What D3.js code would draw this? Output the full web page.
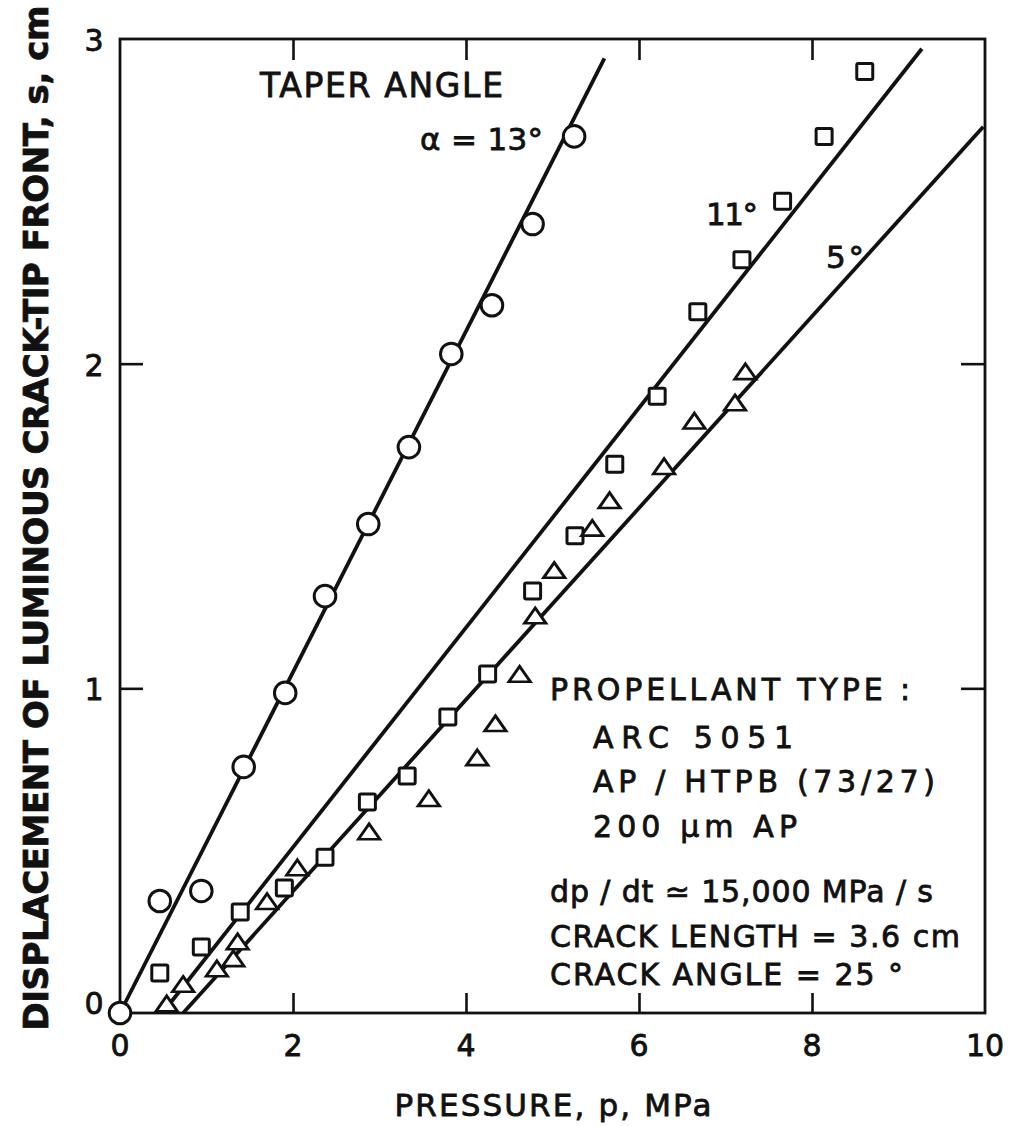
<!DOCTYPE html>
<html>
<head>
<meta charset="utf-8">
<script src="https://cdn.jsdelivr.net/npm/d3@7"></script>
<style>
  html, body { margin: 0; padding: 0; background: #fff; }
  svg { display: block; }
  text { font-family: "DejaVu Sans", sans-serif; fill: #111; stroke: #111; stroke-width: 0.8; }
</style>
</head>
<body>
<script>
// ---- Data (pressure p in MPa, displacement s in cm) ----
const xTicks = [0, 2, 4, 6, 8, 10];
const yTicks = [0, 1, 2, 3];

// Taper angle 13 deg (circles)
const circleP = [0, 0.46, 0.94, 1.43, 1.91, 2.37, 2.87, 3.34, 3.83, 4.30, 4.77, 5.25];
const circleS = [0, 0.345, 0.376, 0.758, 0.986, 1.284, 1.506, 1.743, 2.03, 2.18, 2.43, 2.70];
// Taper angle 11 deg (squares)
const squareP = [0.46, 0.94, 1.39, 1.90, 2.37, 2.86, 3.32, 3.79, 4.25, 4.77, 5.26, 5.72, 6.21, 6.68, 7.19, 7.66, 8.14, 8.61];
const squareS = [0.123, 0.203, 0.311, 0.385, 0.48, 0.65, 0.73, 0.912, 1.044, 1.30, 1.47, 1.69, 1.90, 2.16, 2.32, 2.50, 2.70, 2.90];
// Taper angle 5 deg (triangles)
const triP = [0.54, 0.73, 1.12, 1.31, 1.36, 1.70, 2.05, 2.88, 3.57, 4.13, 4.34, 4.62, 4.80, 5.02, 5.46, 5.66, 6.29, 6.64, 7.11, 7.23];
const triS = [0.015, 0.075, 0.123, 0.154, 0.206, 0.33, 0.434, 0.545, 0.647, 0.773, 0.878, 1.03, 1.21, 1.35, 1.48, 1.565, 1.67, 1.81, 1.866, 1.962];

// Fitted lines (end points)
const line13 = [[0, 0], [5.60, 2.94]];
const line11 = [[0.55, 0.02], [9.27, 2.97]];
const line5  = [[0.73, 0], [9.98, 2.73]];

const W = 1009, H = 1126;
const svg = d3.select("body").append("svg").attr("width", W).attr("height", H);

const x = d3.scaleLinear().domain([0, 10]).range([120, 985]);
const y = d3.scaleLinear().domain([0, 3]).range([1013, 39]);

// Frame
svg.append("rect")
  .attr("x", x(0)).attr("y", y(3))
  .attr("width", x(10) - x(0)).attr("height", y(0) - y(3))
  .attr("fill", "none").attr("stroke", "#111").attr("stroke-width", 2.8);

// Axes with inward ticks
const inner = [2, 4, 6, 8];
const yInner = [1, 2];
function styleAxis(g) {
  g.select(".domain").remove();
  g.selectAll(".tick line").attr("stroke", "#111").attr("stroke-width", 2.6);
}
svg.append("g").attr("transform", `translate(0,${y(0)})`)
  .call(d3.axisBottom(x).tickValues(inner).tickSize(-20).tickFormat(""))
  .call(styleAxis);
svg.append("g").attr("transform", `translate(0,${y(3)})`)
  .call(d3.axisTop(x).tickValues(inner).tickSize(-21).tickFormat(""))
  .call(styleAxis);
svg.append("g").attr("transform", `translate(${x(0)},0)`)
  .call(d3.axisLeft(y).tickValues(yInner).tickSize(-23).tickFormat(""))
  .call(styleAxis);
svg.append("g").attr("transform", `translate(${x(10)},0)`)
  .call(d3.axisRight(y).tickValues(yInner).tickSize(-24).tickFormat(""))
  .call(styleAxis);

// Tick labels
svg.append("g").selectAll("text").data(xTicks).join("text")
  .attr("x", d => x(d)).attr("y", 1056)
  .attr("text-anchor", "middle").attr("font-size", 30)
  .text(d => d);
svg.append("g").selectAll("text").data(yTicks).join("text")
  .attr("x", 94).attr("y", d => d === 0 ? y(d) + 1 : y(d) + 12)
  .attr("text-anchor", "middle").attr("font-size", 30)
  .text(d => d);

// Axis titles
svg.append("text")
  .attr("x", 553).attr("y", 1116)
  .attr("text-anchor", "middle").attr("font-size", 31)
  .attr("textLength", 317).attr("lengthAdjust", "spacing")
  .text("PRESSURE,  p,  MPa");
svg.append("text")
  .attr("transform", "translate(48,518) rotate(-90)")
  .attr("text-anchor", "middle").attr("font-size", 34).attr("font-weight", "bold")
  .attr("stroke-width", 0.2)
  .attr("textLength", 1025).attr("lengthAdjust", "spacing")
  .text("DISPLACEMENT OF LUMINOUS CRACK-TIP FRONT, s, cm");

// Fitted lines
const lineGen = d3.line().x(d => x(d[0])).y(d => y(d[1]));
[line13, line11, line5].forEach(l => {
  svg.append("path").attr("d", lineGen(l))
    .attr("fill", "none").attr("stroke", "#111").attr("stroke-width", 3.8);
});

// Markers
const mk = svg.append("g").attr("fill", "#fff").attr("stroke", "#111").attr("stroke-width", 3);
mk.selectAll("rect.sq").data(d3.range(squareP.length)).join("rect")
  .attr("class", "sq")
  .attr("x", i => x(squareP[i]) - 8).attr("y", i => y(squareS[i]) - 8)
  .attr("width", 16).attr("height", 16).attr("rx", 1.5);
const tri = d3.symbol().type(d3.symbolTriangle).size(150);
mk.selectAll("path.tri").data(d3.range(triP.length)).join("path")
  .attr("class", "tri")
  .attr("transform", i => `translate(${x(triP[i])},${y(triS[i]) - 2}) scale(1.15,0.95)`)
  .attr("d", tri)
  .attr("stroke-width", 2.7);
mk.selectAll("circle").data(d3.range(circleP.length)).join("circle")
  .attr("cx", i => x(circleP[i])).attr("cy", i => y(circleS[i]))
  .attr("r", 10.8);

// Annotations
const notes = [
  { t: "TAPER ANGLE", x: 260, y: 97, w: 243, fs: 33 },
  { t: "α = 13°", x: 420, y: 150, w: 123, fs: 31 },
  { t: "11°", x: 706, y: 225, w: 52, fs: 31 },
  { t: "5°", x: 826, y: 268, w: 38, fs: 31 },
  { t: "PROPELLANT TYPE :", x: 550, y: 700, w: 360, fs: 30 },
  { t: "ARC  5051", x: 593, y: 748, w: 200, fs: 30 },
  { t: "AP / HTPB (73/27)", x: 593, y: 792, w: 342, fs: 30 },
  { t: "200 μm AP", x: 593, y: 837, w: 204, fs: 30 },
  { t: "dp / dt ≃ 15,000 MPa / s", x: 550, y: 902, w: 383, fs: 30 },
  { t: "CRACK LENGTH = 3.6 cm", x: 550, y: 947, w: 410, fs: 30 },
  { t: "CRACK ANGLE = 25 °", x: 550, y: 985, w: 353, fs: 30 }
];
svg.append("g").selectAll("text").data(notes).join("text")
  .attr("x", d => d.x).attr("y", d => d.y)
  .attr("font-size", d => d.fs)
  .attr("textLength", d => d.w).attr("lengthAdjust", "spacing")
  .text(d => d.t);
</script>
</body>
</html>
